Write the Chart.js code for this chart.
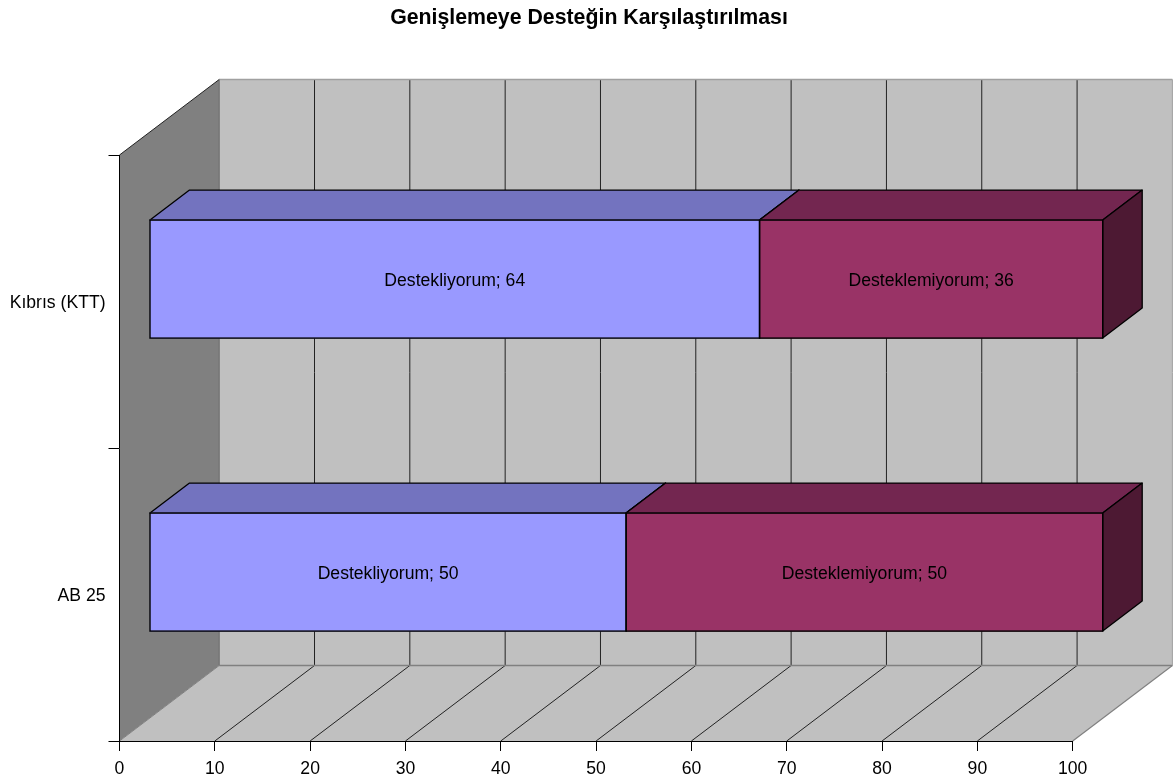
<!DOCTYPE html>
<html><head><meta charset="utf-8">
<style>html,body{margin:0;padding:0;background:#fff}canvas{display:block}</style>
<script src="https://cdn.jsdelivr.net/npm/chart.js@4"></script></head>
<body><canvas id="c" width="1176" height="779"></canvas>
<script>
const categories = ['Kıbrıs (KTT)', 'AB 25'];
const seriesNames = ['Destekliyorum', 'Desteklemiyorum'];
const destekliyorum = [64, 50];
const desteklemiyorum = [36, 50];
const xTicks = [0,10,20,30,40,50,60,70,80,90,100];
const FONT = '"Liberation Sans", Arial, sans-serif';

const WALL = {dx:99.7, dy:-75.5};
const BAR_OFF = {dx:30, dy:-22.4};
const BAR_D = {dx:39.5, dy:-30};
const shades = [{top:'#7373BF',side:'#4D4D80'},{top:'#732650',side:'#4D1933'}];

function poly(ctx, pts, fill, stroke, lw){
  ctx.beginPath();
  pts.forEach((p,i)=> i?ctx.lineTo(p[0],p[1]):ctx.moveTo(p[0],p[1]));
  ctx.closePath();
  if(fill){ctx.fillStyle=fill;ctx.fill();}
  if(stroke){ctx.strokeStyle=stroke;ctx.lineWidth=lw||1;ctx.stroke();}
}
function seg(ctx,x1,y1,x2,y2,c,lw){
  ctx.beginPath();ctx.moveTo(x1,y1);ctx.lineTo(x2,y2);ctx.strokeStyle=c;ctx.lineWidth=lw;ctx.stroke();
}
const threeD = {
  id:'threeD',
  afterLayout(chart){
    // centre the title on the page position used by the reference
    if(chart.titleBlock){ chart.titleBlock.left=0; chart.titleBlock.right=1178; }
  },
  beforeDraw(chart){
    const {ctx,chartArea:a,scales:{x}} = chart;
    const {dx,dy} = WALL;
    ctx.save();
    poly(ctx,[[a.left,a.top],[a.left+dx,a.top+dy],[a.left+dx,a.bottom+dy],[a.left,a.bottom]],'#808080');
    poly(ctx,[[a.left+dx,a.top+dy],[a.right+dx,a.top+dy],[a.right+dx,a.bottom+dy],[a.left+dx,a.bottom+dy]],'#C0C0C0');
    poly(ctx,[[a.left,a.bottom],[a.right,a.bottom],[a.right+dx,a.bottom+dy],[a.left+dx,a.bottom+dy]],'#C0C0C0');
    xTicks.forEach(v=>{
      const px=x.getPixelForValue(v);
      if(v>0&&v<100){
        seg(ctx,px+dx,a.top+dy,px+dx,a.bottom+dy,'#222',1);
        seg(ctx,px,a.bottom,px+dx,a.bottom+dy,'#222',1);
      }
    });
    seg(ctx,a.left+dx,a.top+dy,a.right+dx,a.top+dy,'#A0A0A0',1.3);
    seg(ctx,a.left+dx,a.bottom+dy,a.right+dx,a.bottom+dy,'#808080',1.6);
    seg(ctx,a.left+dx,a.top+dy,a.left+dx,a.bottom+dy,'#707070',1.2);
    seg(ctx,a.right+dx,a.top+dy,a.right+dx,a.bottom+dy,'#A0A0A0',1);
    seg(ctx,a.left,a.bottom,a.left+dx,a.bottom+dy,'#808080',1);
    seg(ctx,a.right,a.bottom,a.right+dx,a.bottom+dy,'#808080',1.2);
    seg(ctx,a.left,a.top,a.left+dx,a.top+dy,'#222',1);
    ctx.restore();
  },
  beforeDatasetsDraw(chart){
    const ctx=chart.ctx;
    const {dx,dy}=BAR_D;
    ctx.save();
    ctx.lineJoin='round';
    ctx.translate(BAR_OFF.dx,BAR_OFF.dy);
    chart.data.datasets.forEach((ds,i)=>{
      chart.getDatasetMeta(i).data.forEach(el=>{
        const {x,y,base,height}=el.getProps(['x','y','base','height'],true);
        const t=y-height/2,b=y+height/2;
        poly(ctx,[[base,t],[x,t],[x+dx,t+dy],[base+dx,t+dy]],shades[i].top,'#000',1.3);
        poly(ctx,[[x,t],[x+dx,t+dy],[x+dx,b+dy],[x,b]],shades[i].side,'#000',1.3);
      });
    });
    ctx.restore();
  },
  beforeDatasetDraw(chart){ chart.ctx.save(); chart.ctx.translate(BAR_OFF.dx,BAR_OFF.dy); },
  afterDatasetDraw(chart){ chart.ctx.restore(); },
  afterDatasetsDraw(chart){
    const ctx=chart.ctx;
    ctx.save();
    ctx.translate(BAR_OFF.dx,BAR_OFF.dy);
    chart.data.datasets.forEach((ds,i)=>{
      chart.getDatasetMeta(i).data.forEach((el,j)=>{
        const {x,y,base,height}=el.getProps(['x','y','base','height'],true);
        ctx.strokeStyle='#000';ctx.lineWidth=1.4;
        ctx.strokeRect(base,y-height/2,x-base,height);
        ctx.fillStyle='#000';ctx.font='17.6px '+FONT;ctx.textAlign='center';ctx.textBaseline='middle';
        ctx.fillText(seriesNames[i]+'; '+ds.data[j],(x+base)/2,y+2);
      });
    });
    ctx.restore();
  }
};
new Chart(document.getElementById('c'),{
  type:'bar',
  data:{labels:categories,datasets:[
    {label:seriesNames[0],data:destekliyorum,backgroundColor:'#9999FF',borderWidth:0},
    {label:seriesNames[1],data:desteklemiyorum,backgroundColor:'#993366',borderWidth:0}
  ]},
  plugins:[threeD],
  options:{
    indexAxis:'y',responsive:false,animation:false,
    barThickness:118,
    layout:{padding:{left:0,right:103.3,top:0,bottom:0}},
    plugins:{
      legend:{display:false},tooltip:{enabled:false},
      title:{display:true,text:'Genişlemeye Desteğin Karşılaştırılması',color:'#000',
        font:{family:FONT,size:21.3,weight:'bold'},padding:{top:5.5,bottom:123.94}}
    },
    scales:{
      x:{stacked:true,min:0,max:100,
        afterFit(s){s.height=38;},
        afterBuildTicks(s){s.ticks=xTicks.map(v=>({value:v}));},
        border:{color:'#000',width:1},
        grid:{drawOnChartArea:false,tickLength:10,tickColor:'#000'},
        ticks:{color:'#000',autoSkip:false,maxRotation:0,padding:8,font:{family:FONT,size:17.6}}},
      y:{stacked:true,
        afterFit(s){s.width=119.5;},
        border:{color:'#000',width:1},
        grid:{drawOnChartArea:false,offset:true,tickLength:11,tickColor:'#000'},
        ticks:{color:'#000',padding:3,labelOffset:2,font:{family:FONT,size:17.6}}}
    }
  }
});
</script></body></html>
